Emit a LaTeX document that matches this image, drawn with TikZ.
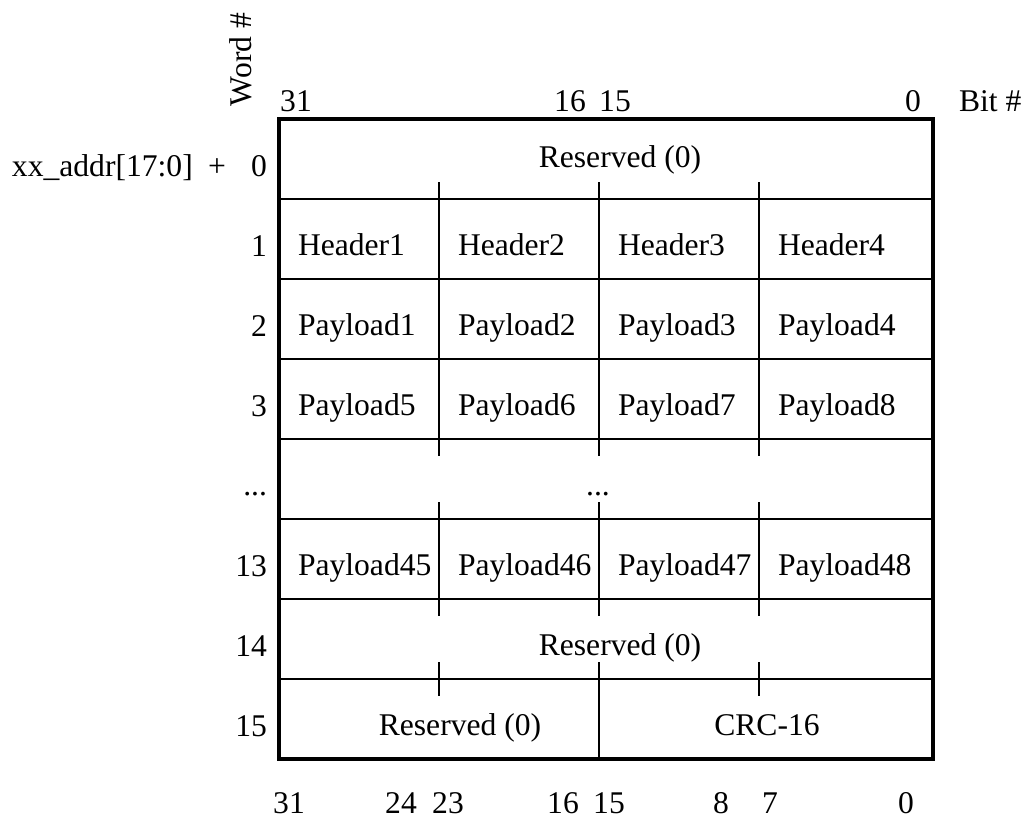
\documentclass[tikz,border=0pt]{standalone}
\usepackage{fontspec}
\setmainfont{Liberation Serif}
\begin{document}
\begin{tikzpicture}[x=0.75pt,y=-0.75pt,
  every node/.style={inner sep=0pt,outer sep=0pt,font=\fontsize{23.7}{28}\selectfont},
  frame/.style={line width=2.7pt},
  grid/.style={line width=1.3pt},
  lbl/.style={anchor=base},
  cell/.style={anchor=base west},
  rowlbl/.style={anchor=base east}]
\useasboundingbox (0,0) rectangle (1027,817);
% grid lines
\foreach \y in {199,279,359,439,519,599,679} \draw[grid] (279,\y) -- (933,\y);
% full verticals rows 1-3 and 13
\foreach \x in {439,599,759} {
  \draw[grid] (\x,199) -- (\x,439);
  \draw[grid] (\x,519) -- (\x,599);
  % ticks
  \draw[grid] (\x,199) -- (\x,182);
  \draw[grid] (\x,439) -- (\x,456);
  \draw[grid] (\x,519) -- (\x,502);
  \draw[grid] (\x,599) -- (\x,616);
  \draw[grid] (\x,679) -- (\x,662);
}
\draw[grid] (599,679) -- (599,759);
\draw[grid] (439,679) -- (439,696);
\draw[grid] (759,679) -- (759,696);
\draw[frame] (279,119) rectangle (933,759);
% top labels
\node[lbl] (t31) at (296,111) {31};
\node[lbl] (t16) at (570,111) {16};
\node[lbl] (t15) at (615,111) {15};
\node[lbl] (t0) at (913,111) {0};
\node[anchor=base west] (bit) at (959,111) {Bit \#};
\node[rotate=90,anchor=base west] (word) at (251,106) {Word \#};
% left labels
\node[anchor=base west] (addr) at (12,176) {xx\_addr[17:0]};
\node[lbl] (plus) at (217,176) {+};
\node[rowlbl] (r0) at (267,176) {0};
\node[rowlbl] (r1) at (267,256) {1};
\node[rowlbl] (r2) at (267,336) {2};
\node[rowlbl] (r3) at (267,416) {3};
\node[rowlbl] (rd) at (267,495) {...};
\node[rowlbl] (r13) at (267,576) {13};
\node[rowlbl] (r14) at (267,656) {14};
\node[rowlbl] (r15) at (267,736) {15};
% cells
\node[lbl] (res0) at (620,167) {Reserved (0)};
\node[cell] (h1) at (298,255) {Header1};
\node[cell] (h2) at (458,255) {Header2};
\node[cell] (h3) at (618,255) {Header3};
\node[cell] (h4) at (778,255) {Header4};
\node[cell] (p1) at (298,335) {Payload1};
\node[cell] (p2) at (458,335) {Payload2};
\node[cell] (p3) at (618,335) {Payload3};
\node[cell] (p4) at (778,335) {Payload4};
\node[cell] (p5) at (298,415) {Payload5};
\node[cell] (p6) at (458,415) {Payload6};
\node[cell] (p7) at (618,415) {Payload7};
\node[cell] (p8) at (778,415) {Payload8};
\node[lbl] (dots) at (598,495) {...};
\node[cell] (p45) at (298,575) {Payload45};
\node[cell] (p46) at (458,575) {Payload46};
\node[cell] (p47) at (618,575) {Payload47};
\node[cell] (p48) at (778,575) {Payload48};
\node[lbl] (res14) at (620,655) {Reserved (0)};
\node[lbl] (res15) at (460,735) {Reserved (0)};
\node[lbl] (crc) at (767,735) {CRC-16};
% bottom labels
\node[lbl] (b31) at (289,813) {31};
\node[lbl] (b24) at (401,813) {24};
\node[lbl] (b23) at (448,813) {23};
\node[lbl] (b16) at (563,813) {16};
\node[lbl] (b15) at (609,813) {15};
\node[lbl] (b8) at (721,813) {8};
\node[lbl] (b7) at (770,813) {7};
\node[lbl] (b0) at (906,813) {0};
\end{tikzpicture}
\end{document}
